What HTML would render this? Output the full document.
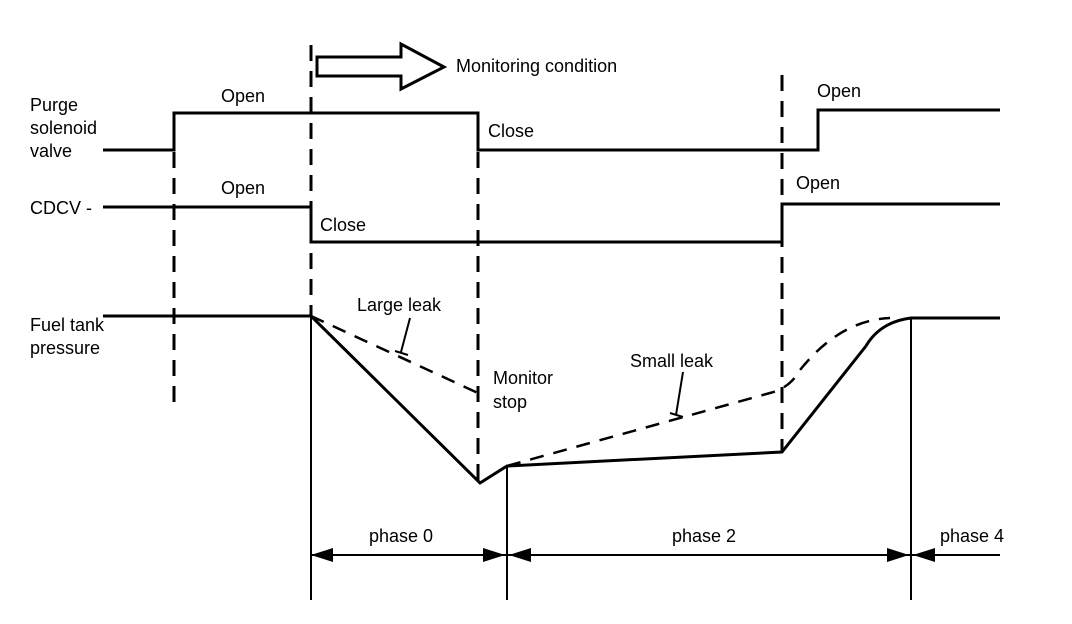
<!DOCTYPE html>
<html><head><meta charset="utf-8"><style>
html,body{margin:0;padding:0;background:#fff;}
svg{display:block;}
text{font-family:"Liberation Sans",sans-serif;font-size:18px;fill:#000;}
</style></head><body>
<svg width="1072" height="624" viewBox="0 0 1072 624" xmlns="http://www.w3.org/2000/svg">
<g fill="none" stroke="#000">
<!-- purge -->
<polyline stroke-width="3" points="103,150 174,150 174,113 478,113 478,150 818,150 818,110 1000,110"/>
<!-- CDCV -->
<polyline stroke-width="3" points="103,207 311,207 311,242 782,242 782,204 1000,204"/>
<!-- fuel -->
<polyline stroke-width="3" points="103,316 311,316 480,483 507,466 782,452 866,346"/>
<path stroke-width="3" d="M866,346 Q880,322 911,318 L1000,318"/>
<!-- dashed verticals -->
<g stroke-width="3" stroke-dasharray="16,10">
<line x1="174" y1="152" x2="174" y2="402"/>
<line x1="311" y1="45" x2="311" y2="316"/>
<line x1="478" y1="152" x2="478" y2="482"/>
<line x1="782" y1="75" x2="782" y2="452"/>
</g>
<!-- leak dashed -->
<g stroke-width="2.5" stroke-dasharray="14,10">
<line x1="311" y1="316" x2="478" y2="393"/>
<path d="M507,466 L770,393 Q790,388 800,370 Q840,320 890,318"/>
</g>
<!-- leaders -->
<line stroke-width="2" x1="410" y1="318" x2="401" y2="352"/>
<line stroke-width="2" x1="395" y1="351" x2="408" y2="355"/>
<line stroke-width="2" x1="683" y1="372" x2="676" y2="415"/>
<line stroke-width="2" x1="670" y1="413" x2="683" y2="417"/>
<!-- solid verticals -->
<line stroke-width="2" x1="311" y1="316" x2="311" y2="600"/>
<line stroke-width="2" x1="507" y1="466" x2="507" y2="600"/>
<line stroke-width="2" x1="911" y1="318" x2="911" y2="600"/>
<line stroke-width="2" x1="311" y1="555" x2="1000" y2="555"/>
<!-- hollow arrow -->
<polygon stroke-width="3" points="317,57 401,57 401,44 444,67 401,89 401,76 317,76"/>
</g>
<g fill="#000">
<polygon points="311,555 333,548 333,562"/>
<polygon points="505,555 483,548 483,562"/>
<polygon points="509,555 531,548 531,562"/>
<polygon points="909,555 887,548 887,562"/>
<polygon points="913,555 935,548 935,562"/>
</g>
<text x="456" y="72">Monitoring condition</text>
<text x="30" y="111">Purge</text>
<text x="30" y="134">solenoid</text>
<text x="30" y="157">valve</text>
<text x="30" y="214">CDCV -</text>
<text x="30" y="331">Fuel tank</text>
<text x="30" y="354">pressure</text>
<text x="221" y="102">Open</text>
<text x="221" y="194">Open</text>
<text x="488" y="137">Close</text>
<text x="320" y="231">Close</text>
<text x="817" y="97">Open</text>
<text x="796" y="189">Open</text>
<text x="357" y="311">Large leak</text>
<text x="493" y="384">Monitor</text>
<text x="493" y="408">stop</text>
<text x="630" y="367">Small leak</text>
<text x="369" y="542">phase 0</text>
<text x="672" y="542">phase 2</text>
<text x="940" y="542">phase 4</text>
</svg>
</body></html>
